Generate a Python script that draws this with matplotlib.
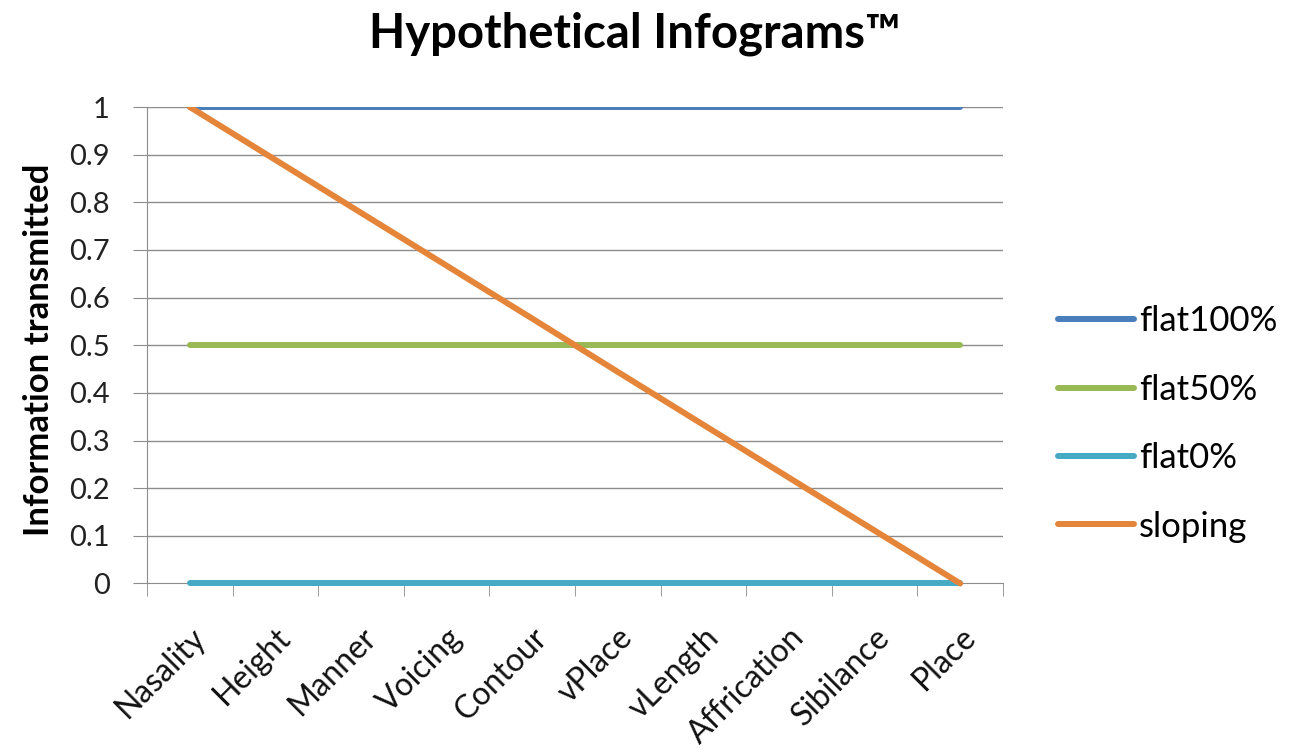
import matplotlib.pyplot as plt
import numpy as np

plt.rcParams['font.family'] = ['Lato', 'DejaVu Sans']

# Data
categories = ['Nasality', 'Height', 'Manner', 'Voicing', 'Contour',
              'vPlace', 'vLength', 'Affrication', 'Sibilance', 'Place']
flat100 = [1, 1, 1, 1, 1, 1, 1, 1, 1, 1]
flat50 = [0.5, 0.5, 0.5, 0.5, 0.5, 0.5, 0.5, 0.5, 0.5, 0.5]
flat0 = [0, 0, 0, 0, 0, 0, 0, 0, 0, 0]
sloping = [1, 0.889, 0.778, 0.667, 0.556, 0.444, 0.333, 0.222, 0.111, 0]
y_ticks = [0, 0.1, 0.2, 0.3, 0.4, 0.5, 0.6, 0.7, 0.8, 0.9, 1]
y_tick_labels = ['0', '0.1', '0.2', '0.3', '0.4', '0.5', '0.6', '0.7', '0.8', '0.9', '1']

fig = plt.figure(figsize=(12.9, 7.49), dpi=100)
ax = fig.add_axes([0.114, 0.2083, 0.6635, 0.6488])

x = np.arange(len(categories))
grid_col = '#8c8c8c'

# horizontal gridlines
for yv in y_ticks[1:]:
    ax.axhline(yv, color=grid_col, lw=1.0, zorder=1)

ax.plot(x, flat100, color='#4A7EBB', lw=4.3, label='flat100%', zorder=3,
        solid_capstyle='round')
ax.plot(x, flat50, color='#98B954', lw=4.3, label='flat50%', zorder=3,
        solid_capstyle='round')
ax.plot(x, flat0, color='#46AAC5', lw=4.3, label='flat0%', zorder=3,
        solid_capstyle='round')
ax.plot(x, sloping, color='#E5853A', lw=4.3, label='sloping', zorder=4,
        solid_capstyle='round')

ax.set_xlim(-0.5, len(categories) - 0.5)
ax.set_ylim(-0.02, 1)

for s in ['top', 'right']:
    ax.spines[s].set_visible(False)
ax.spines['bottom'].set_position(('data', 0))
ax.spines['left'].set_bounds(0, 1)
ax.spines['bottom'].set_color(grid_col)
ax.spines['left'].set_color(grid_col)
ax.spines['bottom'].set_zorder(2)

ax.set_yticks(y_ticks)
ax.set_yticklabels(y_tick_labels, fontsize=21, color='#222222')
ax.tick_params(axis='y', length=10, color=grid_col, pad=17)

ax.set_xticks(x)
ax.set_xticklabels(categories, rotation=45, ha='right', rotation_mode='anchor',
                   fontsize=23, color='#111111')
ax.tick_params(axis='x', which='major', length=0, pad=28)
ax.set_xticks(np.arange(-0.5, len(categories)), minor=True)
ax.tick_params(axis='x', which='minor', length=9, color=grid_col)

ax.set_ylabel('Information transmitted', fontsize=25, fontweight='bold', labelpad=10)

fig.text(0.492, 0.955, 'Hypothetical Infograms\u2122', fontsize=34,
         fontweight='bold', ha='center', va='center')

leg = fig.legend(loc='center left', bbox_to_anchor=(0.82, 0.434), frameon=False,
                 fontsize=25, handlelength=2.2, handletextpad=0.14,
                 labelspacing=1.05, borderpad=0, borderaxespad=0)

plt.savefig('out.png', dpi=100)
